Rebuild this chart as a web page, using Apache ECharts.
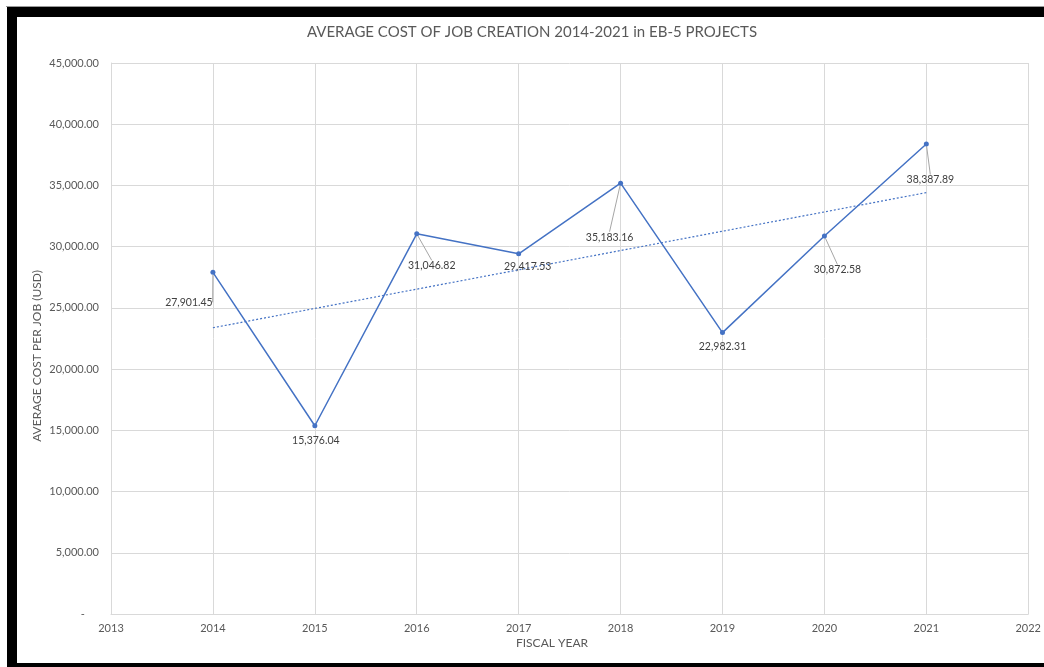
<!DOCTYPE html>
<html>
<head>
<meta charset="utf-8">
<script src="https://cdn.jsdelivr.net/npm/echarts@6/dist/echarts.min.js"></script>
<style>
  html, body { margin: 0; padding: 0; background: #ffffff; overflow: hidden; }
  #chart { width: 1044px; height: 667px; }
</style>
</head>
<body>
<div id="chart"></div>
<script>
// Fiscal years and average cost per job created (USD)
const years = [2014, 2015, 2016, 2017, 2018, 2019, 2020, 2021];
const avgCost = [27901.45, 15376.04, 31046.82, 29417.53, 35183.16, 22982.31, 30872.58, 38387.89];

// Axis ranges
const xRange = [2013, 2022];
const yRange = [0, 45000];
const yStep = 5000;

// Data label placement (pixel offset of each label centre from its point)
const labelOffsets = [[-24, 30], [1, 15], [15, 32], [9, 13], [-11, 54], [0, 14], [13, 34], [4, 36]];
const showLeader = [true, false, true, false, true, false, true, true];

// Least-squares linear trend over the series
function linearTrend(xs, ys) {
  const n = xs.length;
  const mx = xs.reduce((a, b) => a + b, 0) / n;
  const my = ys.reduce((a, b) => a + b, 0) / n;
  let sxy = 0, sxx = 0;
  for (let i = 0; i < n; i++) {
    sxy += (xs[i] - mx) * (ys[i] - my);
    sxx += (xs[i] - mx) * (xs[i] - mx);
  }
  const slope = sxy / sxx;
  const b = my - slope * mx;
  return [[xs[0], b + slope * xs[0]], [xs[n - 1], b + slope * xs[n - 1]]];
}

const fmtMoney = v => v.toLocaleString('en-US', { minimumFractionDigits: 2, maximumFractionDigits: 2 });

const FONT = 'Lato, "Open Sans", sans-serif';
const GRID = '#d9d9d9';
const TEXT = '#595959';
const BLUE = '#4472C4';

const chart = echarts.init(document.getElementById('chart'), null, { renderer: 'canvas' });

// Black frame along the top, left and bottom edges
const frame = [
  { x: 7, y: 7, width: 1037, height: 10 },
  { x: 7, y: 7, width: 10, height: 660 },
  { x: 7, y: 663, width: 1037, height: 4 }
].map(r => ({ type: 'rect', shape: r, style: { fill: '#000000' }, silent: true }));

chart.setOption({
  backgroundColor: '#ffffff',
  animation: false,
  textStyle: { fontFamily: FONT },
  grid: { left: 111, right: 14, top: 63, bottom: 53, containLabel: false },
  graphic: frame.concat([
    {
      type: 'rect',
      shape: { x: 6, y: 6, width: 1038, height: 1 },
      style: { fill: '#9a9a9a' },
      silent: true
    },
    {
      type: 'text',
      x: 532, y: 32,
      style: {
        text: 'AVERAGE COST OF JOB CREATION 2014-2021 in EB-5 PROJECTS',
        font: '15px ' + FONT, fill: TEXT, align: 'center', verticalAlign: 'middle'
      }
    },
    {
      type: 'text',
      x: 552, y: 643,
      style: {
        text: 'FISCAL YEAR',
        font: '12px ' + FONT, fill: TEXT, align: 'center', verticalAlign: 'middle'
      }
    },
    {
      type: 'text',
      x: 37, y: 356,
      rotation: Math.PI / 2,
      style: {
        text: 'AVERAGE COST PER JOB (USD)',
        font: '12px ' + FONT, fill: TEXT, align: 'center', verticalAlign: 'middle'
      }
    }
  ]),
  xAxis: {
    type: 'value',
    min: xRange[0], max: xRange[1], interval: 1,
    axisLine: { show: true, lineStyle: { color: GRID, width: 1 } },
    axisTick: { show: false },
    splitLine: { show: true, lineStyle: { color: GRID, width: 1 } },
    axisLabel: {
      color: TEXT, fontSize: 11, fontFamily: FONT, margin: 9,
      formatter: v => String(v)
    }
  },
  yAxis: {
    type: 'value',
    min: yRange[0], max: yRange[1], interval: yStep,
    axisLine: { show: true, lineStyle: { color: GRID, width: 1 } },
    axisTick: { show: false },
    splitLine: { show: true, lineStyle: { color: GRID, width: 1 } },
    axisLabel: {
      color: TEXT, fontSize: 11, fontFamily: FONT, margin: 12,
      formatter: v => (v === 0 ? '-     ' : fmtMoney(v))
    }
  },
  series: [
    {
      name: 'Trend',
      type: 'line',
      data: linearTrend(years, avgCost),
      symbol: 'none',
      silent: true,
      lineStyle: { color: BLUE, width: 1.2, type: [2, 2] },
      z: 2
    },
    {
      name: 'Average cost per job',
      type: 'line',
      data: years.map((y, i) => ({
        value: [y, avgCost[i]],
        labelLine: { show: showLeader[i] }
      })),
      symbol: 'circle',
      symbolSize: 5,
      itemStyle: { color: BLUE },
      lineStyle: { color: BLUE, width: 1.5 },
      label: {
        show: true,
        position: 'inside',
        color: '#404040',
        fontSize: 10.5,
        fontFamily: FONT,
        formatter: p => fmtMoney(p.value[1])
      },
      labelLine: {
        show: true,
        lineStyle: { color: '#a6a6a6', width: 1 }
      },
      labelLayout: p => ({ dx: labelOffsets[p.dataIndex][0], dy: labelOffsets[p.dataIndex][1] }),
      z: 3
    }
  ]
});
</script>
</body>
</html>
